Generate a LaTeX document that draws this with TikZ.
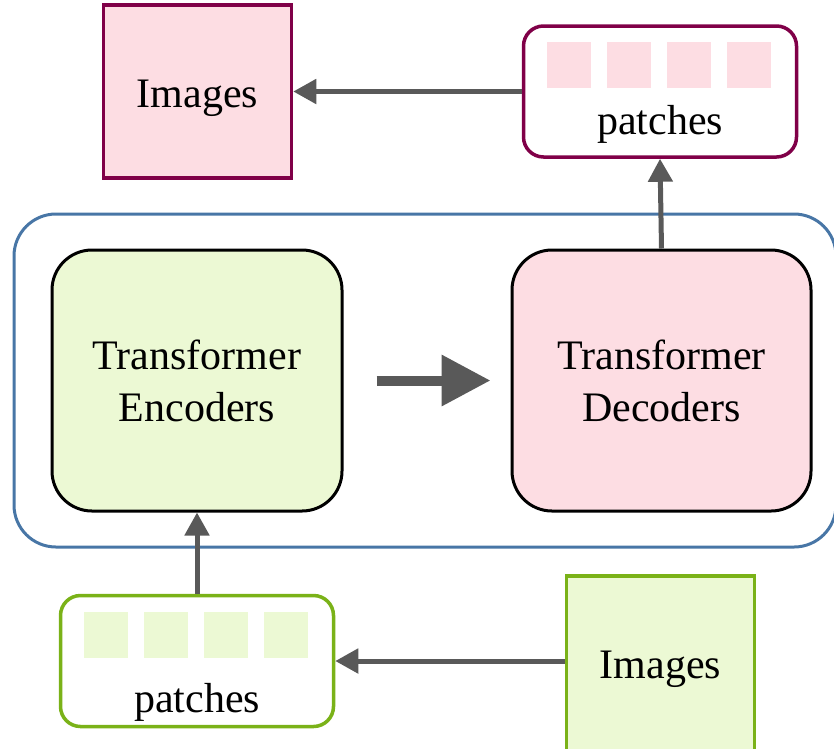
\documentclass[tikz,border=0pt]{standalone}
\usepackage{fontspec}
\setmainfont{Liberation Serif}
\usetikzlibrary{arrows.meta}
\definecolor{rose}{RGB}{128,0,72}
\definecolor{rosefill}{RGB}{253,221,227}
\definecolor{leaf}{RGB}{122,178,24}
\definecolor{leaffill}{RGB}{236,249,212}
\definecolor{frame}{RGB}{72,118,166}
\definecolor{arrgray}{RGB}{89,89,89}
\begin{document}
\begin{tikzpicture}[x=1pt,y=-1pt,
  font=\fontsize{42pt}{52pt}\selectfont,
  block/.style={draw=black,line width=3pt,rounded corners=40pt,minimum height=261pt,align=center,inner sep=0pt},
  imgbox/.style={line width=3.5pt,minimum width=188pt,inner sep=0pt},
  patchbox/.style={line width=3.5pt,rounded corners=20pt,minimum width=273pt,minimum height=131pt,inner sep=0pt,fill=white},
  tile/.style={minimum width=44pt,minimum height=46pt,inner sep=0pt},
  arr/.style={draw=arrgray,line width=5pt,-{Triangle[length=23pt,width=24pt]}}]
\useasboundingbox (0,0) rectangle (834,748);
\node[draw=frame,line width=3pt,rounded corners=42pt,minimum width=822pt,minimum height=333pt] (model) at (425,380.5) {};
\node[block,fill=leaffill,minimum width=290pt] (enc) at (197,380.5) {Transformer\\Encoders};
\node[block,fill=rosefill,minimum width=299pt] (dec) at (661.5,380.5) {Transformer\\Decoders};
% top: decoder output
\node[imgbox,draw=rose,fill=rosefill,minimum height=173pt] (imgtop) at (197.5,91.5) {};
\node[anchor=base] (imgtoplabel) at (197.5,107) {Images};
\node[patchbox,draw=rose] (tpatch) at (660,91.5) {};
\foreach \i in {0,...,3}{
  \node[tile,fill=rosefill] (ttile\i) at (569+60*\i,64.5) {};
}
\node[anchor=base] (tlabel) at (660,134) {patches};
% bottom: encoder input
\node[imgbox,draw=leaf,fill=leaffill,minimum height=186pt] (imgbot) at (660.5,669) {};
\node[anchor=base] (imgbotlabel) at (660.5,678) {Images};
\node[patchbox,draw=leaf] (bpatch) at (197,661) {};
\foreach \i in {0,...,3}{
  \node[tile,fill=leaffill] (btile\i) at (106+60*\i,635) {};
}
\node[anchor=base] (blabel) at (197,712) {patches};
% connectors
\draw[arr] (bpatch.east -| imgbot.west) -- (bpatch.east);
\draw[arr] (bpatch.north) -- (enc.south);
\draw[draw=arrgray,line width=10pt,-{Triangle[length=49pt,width=49pt]}] ([xshift=33pt]enc.east) -- ([xshift=-20pt]dec.west);
\draw[arr] (dec.north) -- (tpatch.south);
\draw[arr] (tpatch.west) -- (imgtop.east);
\end{tikzpicture}
\end{document}
